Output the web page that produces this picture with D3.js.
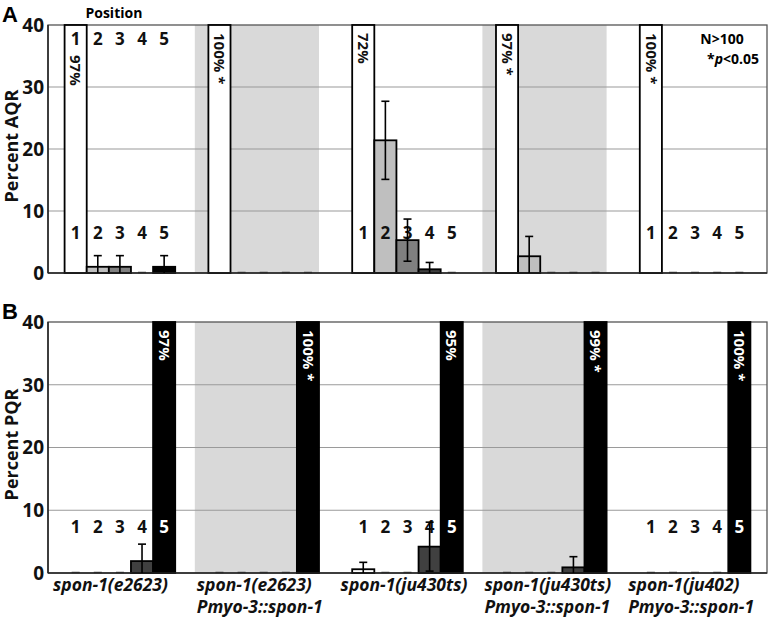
<!DOCTYPE html>
<html>
<head>
<meta charset="utf-8">
<script src="https://cdn.jsdelivr.net/npm/d3@7"></script>
<style>
  body { margin: 0; background: #fff; }
  svg { font-family: "Open Sans", "Noto Sans", sans-serif; }
</style>
</head>
<body>
<svg id="chart" width="771" height="618"></svg>
<script>
// genotype groups (two-line labels)
const groupLine1 = ["spon-1(e2623)", "spon-1(e2623)", "spon-1(ju430ts)", "spon-1(ju430ts)", "spon-1(ju402)"];
const groupLine2 = ["", "Pmyo-3::spon-1", "", "Pmyo-3::spon-1", "Pmyo-3::spon-1"];
const positions = ["1", "2", "3", "4", "5"];
const shaded = [false, true, false, true, false];
const yTicks = [0, 10, 20, 30, 40];

// Percent AQR, per group, positions 1..5
const aqrValues = [
  [97, 1, 1, 0, 1],
  [100, 0, 0, 0, 0],
  [72, 21.4, 5.3, 0.6, 0],
  [97, 2.7, 0, 0, 0],
  [100, 0, 0, 0, 0]
];
const aqrErrors = [
  [0, 1.8, 1.8, 0, 1.8],
  [0, 0, 0, 0, 0],
  [0, 6.3, 3.4, 1.1, 0],
  [0, 3.2, 0, 0, 0],
  [0, 0, 0, 0, 0]
];
const aqrBigLabels = ["97%", "100% *", "72%", "97% *", "100% *"];

// Percent PQR, per group, positions 1..5
const pqrValues = [
  [0, 0, 0, 1.9, 97],
  [0, 0, 0, 0, 100],
  [0.6, 0, 0, 4.2, 95],
  [0, 0, 0, 0.9, 99],
  [0, 0, 0, 0, 100]
];
const pqrErrors = [
  [0, 0, 0, 2.7, 0],
  [0, 0, 0, 0, 0],
  [1.1, 0, 0, 3.9, 0],
  [0, 0, 0, 1.7, 0],
  [0, 0, 0, 0, 0]
];
const pqrBigLabels = ["97%", "100% *", "95%", "99% *", "100% *"];

const posFill = {"1": "#ffffff", "2": "#bfbfbf", "3": "#808080", "4": "#404040", "5": "#000000"};
const SHADE = "#d9d9d9";
const GRID = "#9a9a9a";

const svg = d3.select("#chart");
const left = 48, right = 767;

const x0 = d3.scaleBand().domain(d3.range(5)).range([left, right]).padding(0);
const x1 = d3.scaleBand().domain(positions).range([0, x0.bandwidth()])
    .paddingInner(0).paddingOuter(0.75);

function drawPanel(opts) {
  const y = d3.scaleLinear().domain([0, 40]).range([opts.bottom, opts.top]).clamp(true);
  const g = svg.append("g");

  // shaded groups
  g.selectAll("rect.shade")
    .data(d3.range(5).filter(i => shaded[i]))
    .join("rect")
    .attr("x", i => x0(i) + 3)
    .attr("y", opts.top)
    .attr("width", i => x1("5") + x1.bandwidth() - 3)
    .attr("height", opts.bottom - opts.top)
    .attr("fill", SHADE);

  // gridlines
  g.selectAll("line.grid")
    .data(yTicks.filter(t => t > 0 && t < 40))
    .join("line")
    .attr("x1", left).attr("x2", right)
    .attr("y1", d => y(d)).attr("y2", d => y(d))
    .attr("stroke", GRID).attr("stroke-width", 1.2);

  // frame
  g.append("rect")
    .attr("x", left).attr("y", opts.top)
    .attr("width", right - left).attr("height", opts.bottom - opts.top)
    .attr("fill", "none").attr("stroke", "#555").attr("stroke-width", 1.3);

  // bars
  const flat = [];
  opts.values.forEach((row, gi) => row.forEach((v, pi) => {
    flat.push({g: gi, p: positions[pi], v: v, e: opts.errors[gi][pi]});
  }));

  g.selectAll("rect.bar")
    .data(flat.filter(d => d.v > 0))
    .join("rect")
    .attr("x", d => x0(d.g) + x1(d.p))
    .attr("y", d => y(d.v))
    .attr("width", x1.bandwidth())
    .attr("height", d => y(0) - y(d.v))
    .attr("fill", d => posFill[d.p])
    .attr("stroke", "#000")
    .attr("stroke-width", 1.8);

  // zero values drawn as dashes
  g.selectAll("line.zero")
    .data(flat.filter(d => d.v === 0))
    .join("line")
    .attr("x1", d => x0(d.g) + x1(d.p) + x1.bandwidth() / 2 - 4)
    .attr("x2", d => x0(d.g) + x1(d.p) + x1.bandwidth() / 2 + 4)
    .attr("y1", y(0) - 0.5).attr("y2", y(0) - 0.5)
    .attr("stroke", "#444").attr("stroke-width", 1.5);

  // baseline + y axis line
  g.append("line").attr("x1", left).attr("x2", right)
    .attr("y1", y(0)).attr("y2", y(0))
    .attr("stroke", "#222").attr("stroke-width", 1.5);
  g.append("line").attr("x1", left).attr("x2", left)
    .attr("y1", opts.top).attr("y2", y(0))
    .attr("stroke", "#222").attr("stroke-width", 1.5);

  // position labels (drawn before error bars, which sit on top)
  opts.labelGroups.forEach(gi => {
    g.selectAll(null)
      .data(positions)
      .join("text")
      .attr("x", p => x0(gi) + x1(p) + x1.bandwidth() / 2)
      .attr("y", opts.labelY)
      .attr("text-anchor", "middle")
      .attr("font-size", 17).attr("font-weight", 700)
      .attr("fill", p => (opts.whiteLabel === p ? "#fff" : "#111"))
      .text(p => p);
  });

  // error bars
  const errs = flat.filter(d => d.e > 0);
  const cx = d => x0(d.g) + x1(d.p) + x1.bandwidth() / 2;
  g.selectAll("line.err")
    .data(errs)
    .join("line")
    .attr("x1", cx).attr("x2", cx)
    .attr("y1", d => y(d.v - d.e)).attr("y2", d => y(d.v + d.e))
    .attr("stroke", "#000").attr("stroke-width", 1.6);
  g.selectAll("line.capTop")
    .data(errs)
    .join("line")
    .attr("x1", d => cx(d) - 4).attr("x2", d => cx(d) + 4)
    .attr("y1", d => y(d.v + d.e)).attr("y2", d => y(d.v + d.e))
    .attr("stroke", "#000").attr("stroke-width", 1.6);
  g.selectAll("line.capBot")
    .data(errs.filter(d => d.v - d.e > 0))
    .join("line")
    .attr("x1", d => cx(d) - 4).attr("x2", d => cx(d) + 4)
    .attr("y1", d => y(d.v - d.e)).attr("y2", d => y(d.v - d.e))
    .attr("stroke", "#000").attr("stroke-width", 1.6);

  // rotated percent labels on off-scale bars
  g.selectAll("text.big")
    .data(flat.filter(d => d.v > 40))
    .join("text")
    .attr("transform", d => {
      const yy = opts.top + (opts.bigOffset[d.g] || 8);
      return `translate(${cx(d)},${yy}) rotate(90)`;
    })
    .attr("dy", "0.35em")
    .attr("font-size", 15).attr("font-weight", 700)
    .attr("fill", d => (d.p === "5" ? "#fff" : "#111"))
    .text(d => opts.bigLabels[d.g]);

  // y tick labels
  g.selectAll("text.tick")
    .data(yTicks)
    .join("text")
    .attr("x", left - 4)
    .attr("y", d => y(d))
    .attr("dy", "0.36em")
    .attr("text-anchor", "end")
    .attr("font-size", 19).attr("font-weight", 700)
    .attr("fill", "#111")
    .text(d => d);

  // y axis title
  g.append("text")
    .attr("transform", `translate(18,${(opts.top + opts.bottom) / 2 - 3}) rotate(-90)`)
    .attr("text-anchor", "middle")
    .attr("font-size", 18).attr("font-weight", 700)
    .attr("fill", "#111")
    .text(opts.title);

  // panel letter
  svg.append("text")
    .attr("x", 2).attr("y", opts.top - 3)
    .attr("font-family", "Liberation Sans, Arial, sans-serif")
    .attr("font-size", 22).attr("font-weight", 700)
    .text(opts.letter);

  return y;
}

drawPanel({
  top: 25, bottom: 273, values: aqrValues, errors: aqrErrors, bigLabels: aqrBigLabels,
  title: "Percent AQR", letter: "A", labelGroups: [0, 2, 4], labelY: 239,
  bigOffset: {0: 30}, whiteLabel: null
});

// top position labels for the first group of panel A
svg.selectAll("text.toppos")
  .data(positions)
  .join("text")
  .attr("x", p => x0(0) + x1(p) + x1.bandwidth() / 2)
  .attr("y", 45)
  .attr("text-anchor", "middle")
  .attr("font-size", 17).attr("font-weight", 700)
  .attr("fill", "#111")
  .text(p => p);

svg.append("text")
  .attr("x", x0(0) + x1("3") + x1.bandwidth() / 2 - 6).attr("y", 18)
  .attr("text-anchor", "middle")
  .attr("font-size", 14).attr("font-weight", 700)
  .text("Position");

// legend notes
svg.append("text").attr("x", 722).attr("y", 44).attr("text-anchor", "middle")
  .attr("font-size", 14).attr("font-weight", 700).text("N>100");
const pnote = svg.append("text").attr("x", 759).attr("y", 64).attr("text-anchor", "end")
  .attr("font-size", 14).attr("font-weight", 700);
pnote.append("tspan").text("*");
pnote.append("tspan").attr("font-style", "italic").text("p");
pnote.append("tspan").text("<0.05");

drawPanel({
  top: 322, bottom: 573, values: pqrValues, errors: pqrErrors, bigLabels: pqrBigLabels,
  title: "Percent PQR", letter: "B", labelGroups: [0, 2, 4], labelY: 533,
  bigOffset: {}, whiteLabel: "5"
});

// category labels
const cat = svg.selectAll("g.cat")
  .data(d3.range(5))
  .join("g")
  .attr("transform", i => `translate(${x0(i) + 5},0)`);
cat.append("text")
  .attr("y", 591)
  .attr("font-size", 17.5).attr("font-weight", 700).attr("font-style", "italic")
  .attr("fill", "#111")
  .text(i => groupLine1[i]);
cat.append("text")
  .attr("y", 613)
  .attr("font-size", 17.5).attr("font-weight", 700).attr("font-style", "italic")
  .attr("fill", "#111")
  .text(i => groupLine2[i]);
</script>
</body>
</html>
